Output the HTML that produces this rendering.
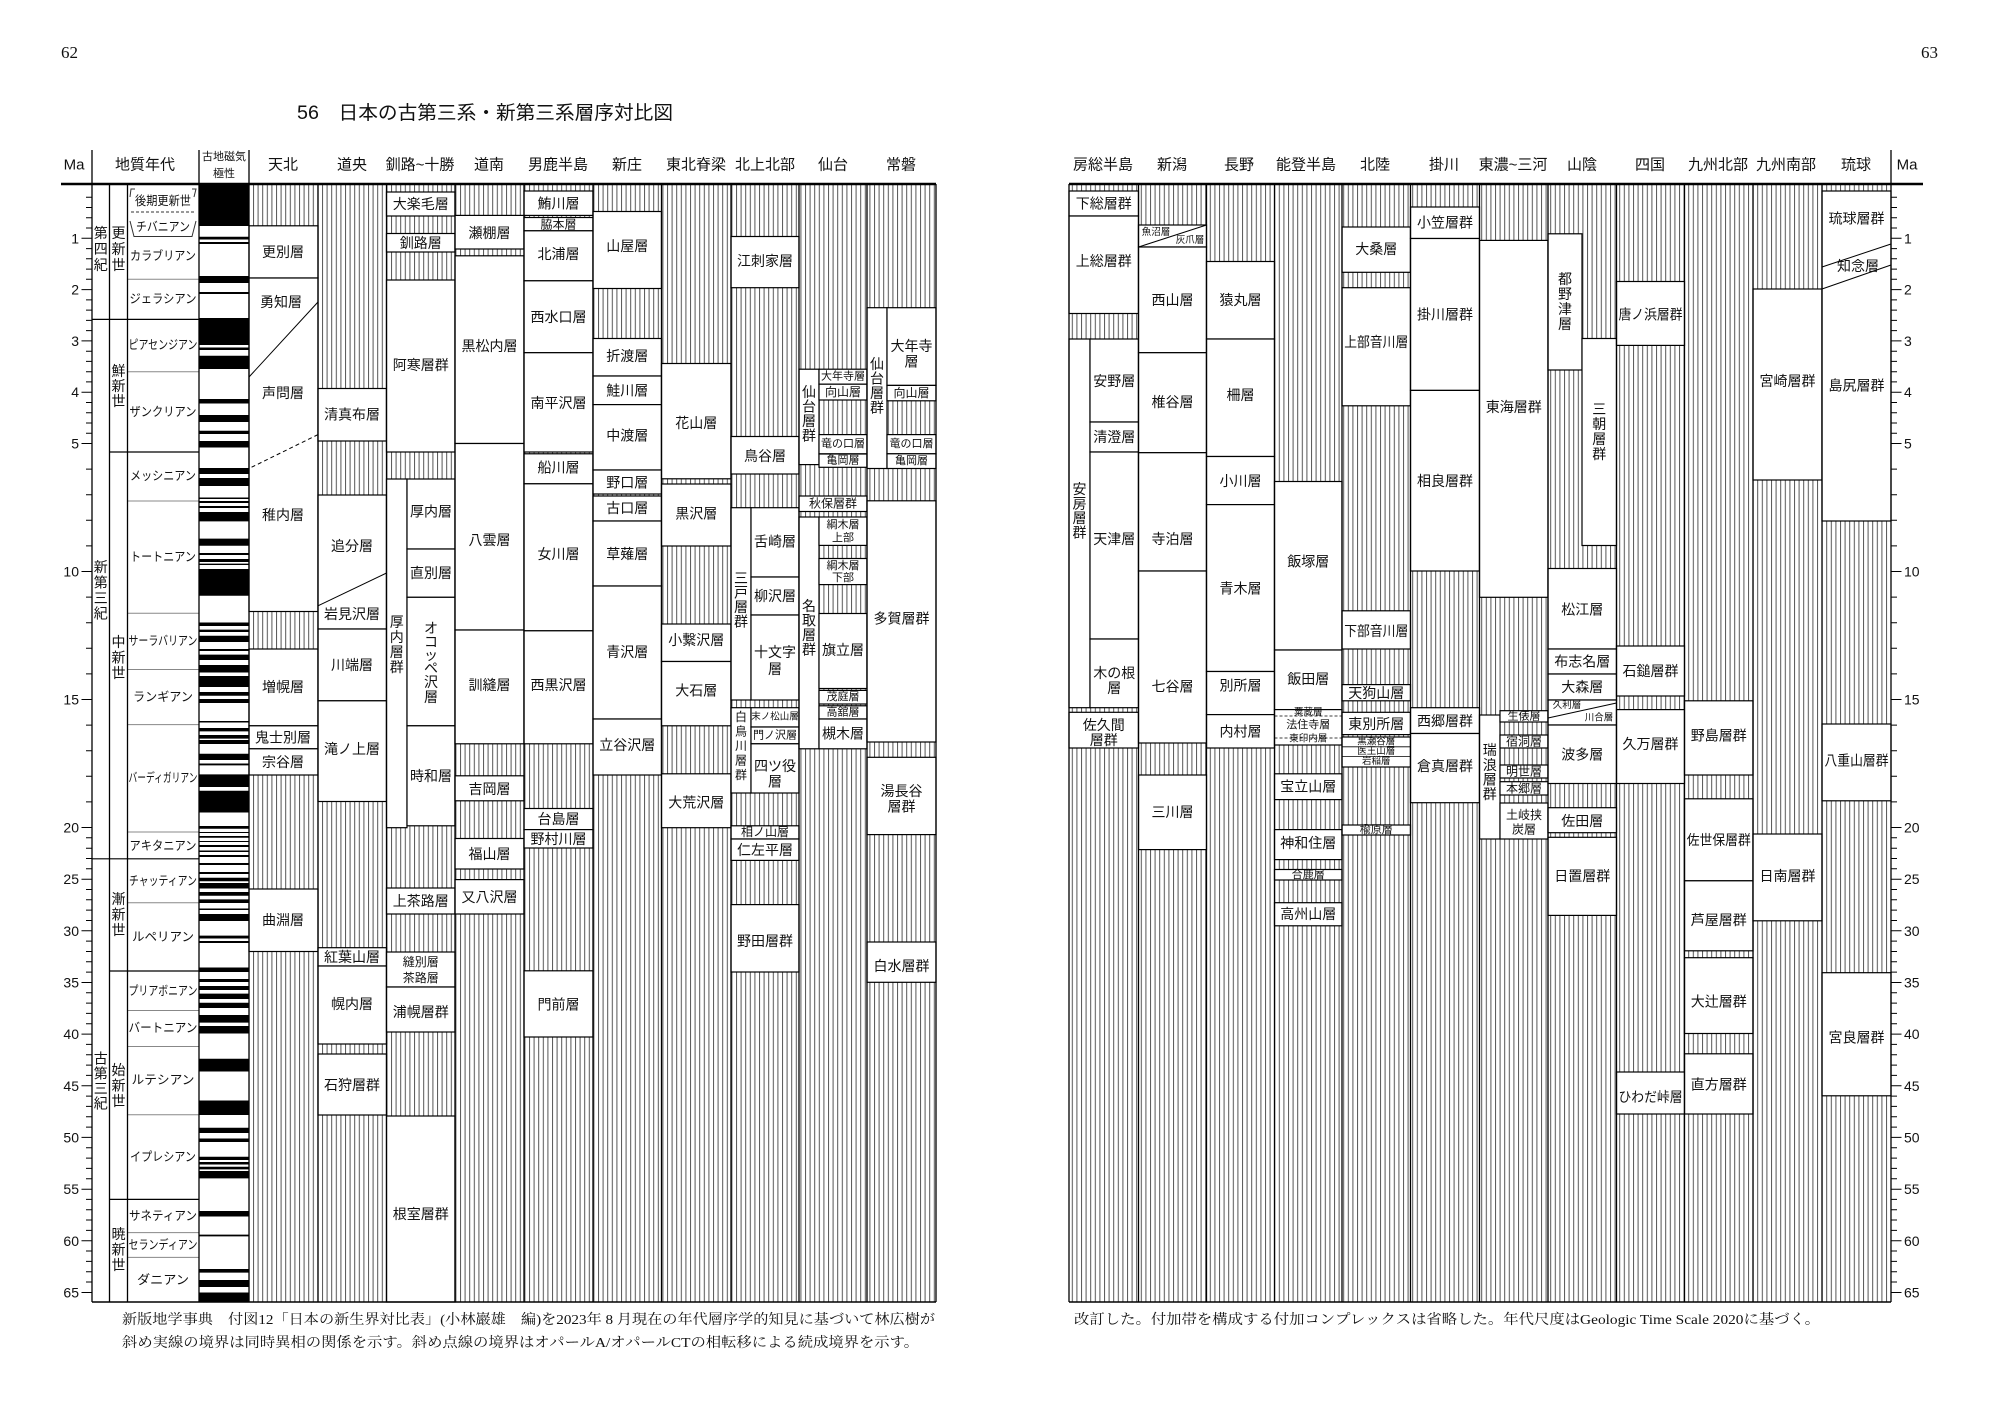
<!DOCTYPE html>
<html><head><meta charset="utf-8">
<style>
html,body{margin:0;padding:0;background:#fff}
svg{display:block}
text{font-family:"Liberation Sans","Noto Sans CJK JP",sans-serif;fill:#111}
.t{font-size:14px;text-anchor:middle;dominant-baseline:central}
.s{font-size:11px}
.m{font-size:12px}
.xs{font-size:9.5px}
.g{font-size:12.5px;text-anchor:middle;dominant-baseline:central}
.hd{font-size:15px;text-anchor:middle;dominant-baseline:central}
.tk{font-size:14px;dominant-baseline:central}
.b{fill:#fff;stroke:#000;stroke-width:1.2}
.serif{font-family:"Liberation Serif","Noto Serif CJK SC",serif}
</style></head>
<body>
<svg width="2000" height="1417" viewBox="0 0 2000 1417" xmlns="http://www.w3.org/2000/svg">
<defs>
<pattern id="h" patternUnits="userSpaceOnUse" width="4.6" height="10"><rect x="0" y="0" width="1" height="10" fill="#555"/></pattern>
</defs>
<rect width="2000" height="1417" fill="#fff"/>

<!-- page numbers & title -->
<text class="serif" x="61" y="58" font-size="17">62</text>
<text class="serif" x="1921" y="58" font-size="17">63</text>
<text x="297" y="119" font-size="19" textLength="376" lengthAdjust="spacingAndGlyphs">56　日本の古第三系・新第三系層序対比図</text>

<!-- hatch backgrounds -->
<rect x="249" y="185" width="687" height="1117" fill="url(#h)"/>
<rect x="1069" y="185" width="822" height="1117" fill="url(#h)"/>

<!-- ===== LEFT PAGE headers ===== -->
<text class="hd" x="74" y="165">Ma</text>
<text class="hd" x="145" y="165">地質年代</text>
<text class="t s" x="224" y="157">古地磁気</text>
<text class="t s" x="224" y="174">極性</text>
<text class="hd" x="283" y="165">天北</text>
<text class="hd" x="352" y="165">道央</text>
<text class="hd" x="420" y="165">釧路~十勝</text>
<text class="hd" x="489" y="165">道南</text>
<text class="hd" x="558" y="165">男鹿半島</text>
<text class="hd" x="627" y="165">新庄</text>
<text class="hd" x="696" y="165">東北脊梁</text>
<text class="hd" x="765" y="165">北上北部</text>
<text class="hd" x="833" y="165">仙台</text>
<text class="hd" x="901" y="165">常磐</text>

<!-- ===== RIGHT PAGE headers ===== -->
<text class="hd" x="1103" y="165">房総半島</text>
<text class="hd" x="1172" y="165">新潟</text>
<text class="hd" x="1239" y="165">長野</text>
<text class="hd" x="1306" y="165">能登半島</text>
<text class="hd" x="1375" y="165">北陸</text>
<text class="hd" x="1444" y="165">掛川</text>
<text class="hd" x="1513" y="165">東濃~三河</text>
<text class="hd" x="1582" y="165">山陰</text>
<text class="hd" x="1650" y="165">四国</text>
<text class="hd" x="1718" y="165">九州北部</text>
<text class="hd" x="1786" y="165">九州南部</text>
<text class="hd" x="1856" y="165">琉球</text>
<text class="hd" x="1907" y="165">Ma</text>

<!-- ===== Geological time columns ===== -->
<g stroke="#888" stroke-width="1">
<path d="M127.5 279.3H199M127.5 371.7H199M127.5 501H199M127.5 613.3H199M127.5 669.5H199M127.5 724.6H199M127.5 832H199M127.5 902.8H199M127.5 1010.5H199M127.5 1046.5H199M127.5 1114.7H199M127.5 1232.6H199M127.5 1257.4H199"/>
</g>
<g stroke="#000" stroke-width="1.2">
<path d="M92 319.4H199M92 858.8H199M109.5 452H199M109.5 971H199M109.5 1199.4H199"/>
</g>
<!-- brackets -->
<g stroke="#333" stroke-width="1" fill="none">
<polyline points="135,189 131,189 130,197"/>
<polyline points="192,189 196,189 194,197"/>
<path d="M131 212H196" stroke-dasharray="3,2"/>
<polyline points="130,221 134,236.5 192,236.5 196,221"/>
</g>
<text class="g" x="163" y="201" textLength="56" lengthAdjust="spacingAndGlyphs">後期更新世</text>
<text class="g" x="163" y="227" textLength="54" lengthAdjust="spacingAndGlyphs">チバニアン</text>
<text class="g" x="163" y="256" textLength="66" lengthAdjust="spacingAndGlyphs">カラブリアン</text>
<text class="g" x="163" y="299" textLength="67" lengthAdjust="spacingAndGlyphs">ジェラシアン</text>
<text class="g" x="163" y="345" textLength="69" lengthAdjust="spacingAndGlyphs">ピアセンジアン</text>
<text class="g" x="163" y="412" textLength="67" lengthAdjust="spacingAndGlyphs">ザンクリアン</text>
<text class="g" x="163" y="476" textLength="66" lengthAdjust="spacingAndGlyphs">メッシニアン</text>
<text class="g" x="163" y="557" textLength="66" lengthAdjust="spacingAndGlyphs">トートニアン</text>
<text class="g" x="163" y="641" textLength="69" lengthAdjust="spacingAndGlyphs">サーラバリアン</text>
<text class="g" x="163" y="697" textLength="60" lengthAdjust="spacingAndGlyphs">ランギアン</text>
<text class="g" x="163" y="778" textLength="69" lengthAdjust="spacingAndGlyphs">バーディガリアン</text>
<text class="g" x="163" y="846" textLength="67" lengthAdjust="spacingAndGlyphs">アキタニアン</text>
<text class="g" x="163" y="881" textLength="68" lengthAdjust="spacingAndGlyphs">チャッティアン</text>
<text class="g" x="163" y="937" textLength="62" lengthAdjust="spacingAndGlyphs">ルペリアン</text>
<text class="g" x="163" y="991" textLength="69" lengthAdjust="spacingAndGlyphs">プリアボニアン</text>
<text class="g" x="163" y="1028" textLength="69" lengthAdjust="spacingAndGlyphs">バートニアン</text>
<text class="g" x="163" y="1080" textLength="63" lengthAdjust="spacingAndGlyphs">ルテシアン</text>
<text class="g" x="163" y="1157" textLength="66" lengthAdjust="spacingAndGlyphs">イプレシアン</text>
<text class="g" x="163" y="1216" textLength="68" lengthAdjust="spacingAndGlyphs">サネティアン</text>
<text class="g" x="163" y="1245" textLength="69" lengthAdjust="spacingAndGlyphs">セランディアン</text>
<text class="g" x="163" y="1280" textLength="52" lengthAdjust="spacingAndGlyphs">ダニアン</text>

<!-- era/epoch vertical labels -->
<text class="t"><tspan x="100.75" y="233">第</tspan><tspan x="100.75" y="249">四</tspan><tspan x="100.75" y="265">紀</tspan></text>
<text class="t"><tspan x="118.5" y="233">更</tspan><tspan x="118.5" y="249">新</tspan><tspan x="118.5" y="265">世</tspan></text>
<text class="t"><tspan x="118.5" y="371">鮮</tspan><tspan x="118.5" y="386">新</tspan><tspan x="118.5" y="401">世</tspan></text>
<text class="t"><tspan x="100.75" y="567">新</tspan><tspan x="100.75" y="582.5">第</tspan><tspan x="100.75" y="598">三</tspan><tspan x="100.75" y="613.5">紀</tspan></text>
<text class="t"><tspan x="118.5" y="642">中</tspan><tspan x="118.5" y="657.5">新</tspan><tspan x="118.5" y="673">世</tspan></text>
<text class="t"><tspan x="118.5" y="899">漸</tspan><tspan x="118.5" y="914.5">新</tspan><tspan x="118.5" y="930">世</tspan></text>
<text class="t"><tspan x="100.75" y="1058.5">古</tspan><tspan x="100.75" y="1073.5">第</tspan><tspan x="100.75" y="1088.5">三</tspan><tspan x="100.75" y="1103.5">紀</tspan></text>
<text class="t"><tspan x="118.5" y="1070">始</tspan><tspan x="118.5" y="1085.5">新</tspan><tspan x="118.5" y="1101">世</tspan></text>
<text class="t"><tspan x="118.5" y="1234">暁</tspan><tspan x="118.5" y="1249.5">新</tspan><tspan x="118.5" y="1265">世</tspan></text>

<!-- magnetic polarity -->
<rect x="199" y="184" width="50" height="1118" fill="#fff"/>
<path fill="#000" d="M199.5 185h49v41h-49zM199.5 236.8h49v2.7h-49zM199.5 242h49v2h-49zM199.5 276h49v7h-49zM199.5 292h49v2h-49zM199.5 318h49v27h-49zM199.5 347.5h49v2.5h-49zM199.5 355.7h49v13.3h-49zM199.5 399h49v4.5h-49zM199.5 415h49v7h-49zM199.5 430.7h49v3.3h-49zM199.5 441h49v6.5h-49zM199.5 468h49v6h-49zM199.5 478h49v8h-49zM199.5 497.5h49v1.5h-49zM199.5 501h49v2h-49zM199.5 506h49v2h-49zM199.5 512h49v9.4h-49zM199.5 538.6h49v7.1h-49zM199.5 553h49v2h-49zM199.5 559h49v3h-49zM199.5 563.6h49v1.4h-49zM199.5 569h49v26.7h-49zM199.5 622.5h49v3.5h-49zM199.5 629.6h49v2.4h-49zM199.5 635.7h49v6.3h-49zM199.5 649h49v2h-49zM199.5 654.6h49v5.4h-49zM199.5 665h49v7.5h-49zM199.5 676h49v11h-49zM199.5 692h49v3.7h-49zM199.5 699h49v4h-49zM199.5 721h49v1.5h-49zM199.5 728h49v3.4h-49zM199.5 735h49v3.6h-49zM199.5 740h49v4h-49zM199.5 753.8h49v6.2h-49zM199.5 763.5h49v1.9h-49zM199.5 774.4h49v12.6h-49zM199.5 790.7h49v21.8h-49zM199.5 826h49v2.8h-49zM199.5 832h49v1h-49zM199.5 836h49v1.8h-49zM199.5 841h49v1h-49zM199.5 845h49v2h-49zM199.5 850.5h49v1.5h-49zM199.5 855h49v2h-49zM199.5 863h49v2h-49zM199.5 872h49v2h-49zM199.5 877.7h49v3.6h-49zM199.5 883h49v5.5h-49zM199.5 892h49v3.8h-49zM199.5 899.4h49v3.6h-49zM199.5 908.5h49v1.5h-49zM199.5 914h49v7h-49zM199.5 935.6h49v2.9h-49zM199.5 941h49v2h-49zM199.5 967.5h49v4.5h-49zM199.5 979h49v3h-49zM199.5 986h49v4h-49zM199.5 993.6h49v5.4h-49zM199.5 1002.7h49v5.3h-49zM199.5 1015h49v7.6h-49zM199.5 1026h49v7.5h-49zM199.5 1058.8h49v12.7h-49zM199.5 1100.5h49v14.5h-49zM199.5 1127.7h49v5.3h-49zM199.5 1138.5h49v3.5h-49zM199.5 1156.7h49v3.3h-49zM199.5 1162h49v2.5h-49zM199.5 1166.8h49v2.6h-49zM199.5 1171h49v7.4h-49zM199.5 1211h49v5.5h-49zM199.5 1234.6h49v1.8h-49zM199.5 1269h49v3.6h-49zM199.5 1280h49v7h-49zM199.5 1292.5h49v9.5h-49z"/>

<!-- ===== LEFT PAGE formations ===== -->
<!-- C1 天北 -->
<rect class="b" x="249" y="225.8" width="69" height="52.2"/><text class="t" x="283" y="252">更別層</text>
<rect class="b" x="249" y="278" width="69" height="333.5"/>
<line x1="318" y1="302" x2="249" y2="377" stroke="#000" stroke-width="1"/>
<line x1="318" y1="434.6" x2="249" y2="468.5" stroke="#000" stroke-width="1" stroke-dasharray="4,3"/>
<text class="t" x="281" y="302">勇知層</text>
<text class="t" x="283" y="393">声問層</text>
<text class="t" x="283" y="515">稚内層</text>
<rect class="b" x="249" y="649" width="69" height="76.8"/><text class="t" x="283" y="687">増幌層</text>
<rect class="b" x="249" y="725.8" width="69" height="23"/><text class="t" x="283" y="737.3">鬼士別層</text>
<rect class="b" x="249" y="748.8" width="69" height="26.2"/><text class="t" x="283" y="762">宗谷層</text>
<rect class="b" x="249" y="889" width="69" height="62.5"/><text class="t" x="283" y="920">曲淵層</text>

<!-- C2 道央 -->
<rect class="b" x="318" y="388.5" width="68.5" height="52.5"/><text class="t" x="352" y="414.5">清真布層</text>
<rect class="b" x="318" y="495" width="68.5" height="134"/>
<line x1="386.5" y1="573" x2="318" y2="605.8" stroke="#000" stroke-width="1"/>
<text class="t" x="352" y="546">追分層</text>
<text class="t" x="352" y="614">岩見沢層</text>
<rect class="b" x="318" y="629" width="68.5" height="71.8"/><text class="t" x="352" y="665">川端層</text>
<rect class="b" x="318" y="700.8" width="68.5" height="100.7"/><text class="t" x="352" y="749">滝ノ上層</text>
<rect class="b" x="318" y="947.7" width="68.5" height="18.3"/><text class="t" x="352" y="957">紅葉山層</text>
<rect class="b" x="318" y="966" width="68.5" height="78"/><text class="t" x="352" y="1004">幌内層</text>
<rect class="b" x="318" y="1054" width="68.5" height="61"/><text class="t" x="352" y="1085">石狩層群</text>

<!-- C3 釧路~十勝 -->
<rect class="b" x="386.5" y="192" width="68.5" height="24"/><text class="t" x="420.75" y="204">大楽毛層</text>
<rect class="b" x="386.5" y="233.5" width="68.5" height="18.5"/><text class="t" x="420.75" y="243">釧路層</text>
<rect class="b" x="386.5" y="280" width="68.5" height="172"/><text class="t" x="420.75" y="365">阿寒層群</text>
<rect class="b" x="386.5" y="479" width="20.5" height="348.7"/>
<text class="t"><tspan x="396.75" y="622">厚</tspan><tspan x="396.75" y="637">内</tspan><tspan x="396.75" y="652">層</tspan><tspan x="396.75" y="667">群</tspan></text>
<rect class="b" x="407" y="479" width="48" height="70"/><text class="t" x="431" y="511.5">厚内層</text>
<rect class="b" x="407" y="549" width="48" height="48.3"/><text class="t" x="431" y="573">直別層</text>
<rect class="b" x="407" y="597.3" width="48" height="128.5"/>
<text class="t"><tspan x="431" y="628">オ</tspan><tspan x="431" y="642">コ</tspan><tspan x="431" y="655">ッ</tspan><tspan x="431" y="668">ペ</tspan><tspan x="431" y="682">沢</tspan><tspan x="431" y="697">層</tspan></text>
<rect class="b" x="407" y="725.8" width="48" height="100"/><text class="t" x="431" y="776">時和層</text>
<rect class="b" x="386.5" y="888" width="68.5" height="26"/><text class="t" x="420.75" y="901">上茶路層</text>
<rect class="b" x="386.5" y="952" width="68.5" height="35"/><text class="t m" x="420.75" y="962">縫別層</text><text class="t m" x="420.75" y="978">茶路層</text>
<rect class="b" x="386.5" y="987" width="68.5" height="45"/><text class="t" x="420.75" y="1012">浦幌層群</text>
<rect class="b" x="386.5" y="1116" width="68.5" height="186"/><text class="t" x="420.75" y="1214">根室層群</text>

<!-- C4 道南 -->
<rect class="b" x="455" y="215.4" width="69" height="33.6"/><text class="t" x="489.5" y="233">瀬棚層</text>
<rect class="b" x="455" y="255.8" width="69" height="187.7"/><text class="t" x="489.5" y="346">黒松内層</text>
<rect class="b" x="455" y="443.5" width="69" height="186.5"/><text class="t" x="489.5" y="540">八雲層</text>
<rect class="b" x="455" y="630" width="69" height="113.8"/><text class="t" x="489.5" y="685">訓縫層</text>
<rect class="b" x="455" y="775.8" width="69" height="25"/><text class="t" x="489.5" y="789">吉岡層</text>
<rect class="b" x="455" y="838.5" width="69" height="30.5"/><text class="t" x="489.5" y="854">福山層</text>
<rect class="b" x="455" y="879.6" width="69" height="34.4"/><text class="t" x="489.5" y="897">又八沢層</text>

<!-- C5 男鹿半島 -->
<rect class="b" x="524" y="191" width="69" height="24.4"/><text class="t" x="558.5" y="203.5">鮪川層</text>
<rect class="b" x="524" y="217.5" width="69" height="13.3"/><text class="t m" x="558.5" y="224.5">脇本層</text>
<rect class="b" x="524" y="230.8" width="69" height="50"/><text class="t" x="558.5" y="254">北浦層</text>
<rect class="b" x="524" y="280.8" width="69" height="71.9"/><text class="t" x="558.5" y="317">西水口層</text>
<rect class="b" x="524" y="352.7" width="69" height="99.3"/><text class="t" x="558.5" y="403">南平沢層</text>
<rect class="b" x="524" y="453.8" width="69" height="30"/><text class="t" x="558.5" y="467.5">船川層</text>
<rect class="b" x="524" y="483.8" width="69" height="147"/><text class="t" x="558.5" y="554">女川層</text>
<rect class="b" x="524" y="630.8" width="69" height="113"/><text class="t" x="558.5" y="685">西黒沢層</text>
<rect class="b" x="524" y="808.5" width="69" height="21.1"/><text class="t" x="558.5" y="819">台島層</text>
<rect class="b" x="524" y="829.6" width="69" height="18.4"/><text class="t" x="558.5" y="839">野村川層</text>
<rect class="b" x="524" y="970.8" width="69" height="66.2"/><text class="t" x="558.5" y="1004.6">門前層</text>

<!-- C6 新庄 -->
<rect class="b" x="593" y="211.5" width="68.5" height="77"/><text class="t" x="627.25" y="246">山屋層</text>
<rect class="b" x="593" y="338.5" width="68.5" height="37.5"/><text class="t" x="627.25" y="356">折渡層</text>
<rect class="b" x="593" y="376" width="68.5" height="28.6"/><text class="t" x="627.25" y="390.4">鮭川層</text>
<rect class="b" x="593" y="404.6" width="68.5" height="65.4"/><text class="t" x="627.25" y="435.4">中渡層</text>
<rect class="b" x="593" y="470" width="68.5" height="24"/><text class="t" x="627.25" y="482.5">野口層</text>
<rect class="b" x="593" y="496" width="68.5" height="25"/><text class="t" x="627.25" y="508">古口層</text>
<rect class="b" x="593" y="521" width="68.5" height="65"/><text class="t" x="627.25" y="554">草薙層</text>
<rect class="b" x="593" y="586" width="68.5" height="133"/><text class="t" x="627.25" y="652">青沢層</text>
<rect class="b" x="593" y="719" width="68.5" height="56"/><text class="t" x="627.25" y="745">立谷沢層</text>

<!-- C7 東北脊梁 -->
<rect class="b" x="661.5" y="363.5" width="69.5" height="115.3"/><text class="t" x="696.25" y="423">花山層</text>
<rect class="b" x="661.5" y="484" width="69.5" height="62"/><text class="t" x="696.25" y="513.5">黒沢層</text>
<rect class="b" x="661.5" y="624" width="69.5" height="37.5"/><text class="t" x="696.25" y="640">小繋沢層</text>
<rect class="b" x="661.5" y="661.5" width="69.5" height="64.3"/><text class="t" x="696.25" y="690.4">大石層</text>
<rect class="b" x="661.5" y="773.8" width="69.5" height="53.9"/><text class="t" x="696.25" y="802.7">大荒沢層</text>

<!-- C8 北上北部 -->
<rect class="b" x="731" y="236.5" width="68" height="51.2"/><text class="t" x="765" y="261">江刺家層</text>
<rect class="b" x="731" y="436.5" width="68" height="37.5"/><text class="t" x="765" y="456">鳥谷層</text>
<rect class="b" x="731" y="507.7" width="20" height="192.3"/>
<text class="t"><tspan x="741" y="578">三</tspan><tspan x="741" y="592.5">戸</tspan><tspan x="741" y="607">層</tspan><tspan x="741" y="621.5">群</tspan></text>
<rect class="b" x="751" y="507.7" width="48" height="69.3"/><text class="t" x="775" y="541.5">舌崎層</text>
<rect class="b" x="751" y="577" width="48" height="38"/><text class="t" x="775" y="596">柳沢層</text>
<rect class="b" x="751" y="615" width="48" height="85"/><text class="t" x="775" y="652">十文字</text><text class="t" x="775" y="669">層</text>
<rect class="b" x="731" y="707.7" width="20" height="85.3"/>
<text class="t m"><tspan x="741" y="717">白</tspan><tspan x="741" y="731.5">鳥</tspan><tspan x="741" y="746">川</tspan><tspan x="741" y="760.5">層</tspan><tspan x="741" y="775">群</tspan></text>
<rect class="b" x="751" y="707.7" width="48" height="19.3"/><text class="t xs" x="775" y="717">末ノ松山層</text>
<rect class="b" x="751" y="727" width="48" height="16.8"/><text class="t s" x="775" y="735.4">門ノ沢層</text>
<rect class="b" x="751" y="743.8" width="48" height="49.2"/><text class="t" x="775" y="766">四ツ役</text><text class="t" x="775" y="781.5">層</text>
<rect class="b" x="731" y="825.8" width="68" height="13.2"/><text class="t m" x="765" y="832">相ノ山層</text>
<rect class="b" x="731" y="839" width="68" height="21.4"/><text class="t" x="765" y="850">仁左平層</text>
<rect class="b" x="731" y="904.6" width="68" height="67.4"/><text class="t" x="765" y="941">野田層群</text>

<!-- C9 仙台 -->
<rect class="b" x="799" y="369.2" width="20" height="95.4"/>
<text class="t"><tspan x="809" y="392">仙</tspan><tspan x="809" y="406.5">台</tspan><tspan x="809" y="421">層</tspan><tspan x="809" y="435.5">群</tspan></text>
<rect class="b" x="819" y="369.2" width="48" height="15"/><text class="t s" x="843" y="376.7">大年寺層</text>
<rect class="b" x="819" y="384.2" width="48" height="15.8"/><text class="t m" x="843" y="392">向山層</text>
<rect class="b" x="819" y="434.6" width="48" height="19.2"/><text class="t s" x="843" y="444">竜の口層</text>
<rect class="b" x="819" y="454" width="48" height="13.3"/><text class="t s" x="843" y="460.7">亀岡層</text>
<rect class="b" x="799" y="496" width="68" height="15.5"/><text class="t m" x="833" y="503.7">秋保層群</text>
<rect class="b" x="799" y="517" width="20" height="231.8"/>
<text class="t"><tspan x="809" y="606">名</tspan><tspan x="809" y="620.5">取</tspan><tspan x="809" y="635">層</tspan><tspan x="809" y="649.5">群</tspan></text>
<rect class="b" x="819" y="517" width="48" height="28.4"/><text class="t s" x="843" y="525">綱木層</text><text class="t s" x="843" y="538">上部</text>
<rect class="b" x="819" y="558.5" width="48" height="26.1"/><text class="t s" x="843" y="566">綱木層</text><text class="t s" x="843" y="578">下部</text>
<rect class="b" x="819" y="613.5" width="48" height="75"/><text class="t" x="843" y="650">旗立層</text>
<rect class="b" x="819" y="690.4" width="48" height="13.6"/><text class="t s" x="843" y="697">茂庭層</text>
<rect class="b" x="819" y="705.8" width="48" height="13.2"/><text class="t s" x="843" y="712.4">高舘層</text>
<rect class="b" x="819" y="719" width="48" height="29.8"/><text class="t" x="843" y="733.5">槻木層</text>

<!-- C10 常磐 -->
<rect class="b" x="867" y="307.7" width="20" height="160.8"/>
<text class="t"><tspan x="877" y="364">仙</tspan><tspan x="877" y="378.5">台</tspan><tspan x="877" y="393">層</tspan><tspan x="877" y="407.5">群</tspan></text>
<rect class="b" x="887" y="307.7" width="49" height="77.7"/><text class="t" x="911.5" y="346">大年寺</text><text class="t" x="911.5" y="361.5">層</text>
<rect class="b" x="887" y="385.4" width="49" height="15.4"/><text class="t m" x="911.5" y="393">向山層</text>
<rect class="b" x="887" y="434.6" width="49" height="19.2"/><text class="t s" x="911.5" y="444">竜の口層</text>
<rect class="b" x="887" y="453.8" width="49" height="14.7"/><text class="t s" x="911.5" y="461">亀岡層</text>
<rect class="b" x="867" y="500.8" width="69" height="241.2"/><text class="t" x="901.5" y="618.5">多賀層群</text>
<rect class="b" x="867" y="757.3" width="69" height="77.3"/><text class="t" x="901.5" y="791">湯長谷</text><text class="t" x="901.5" y="806.5">層群</text>
<rect class="b" x="867" y="942" width="69" height="40.3"/><text class="t" x="901.5" y="966">白水層群</text>

<!-- ===== RIGHT PAGE formations ===== -->
<!-- R1 房総半島 -->
<rect class="b" x="1069" y="191" width="69.5" height="25"/><text class="t" x="1103.75" y="203.5">下総層群</text>
<rect class="b" x="1069" y="216" width="69.5" height="97.5"/><text class="t" x="1103.75" y="261">上総層群</text>
<rect class="b" x="1069" y="339" width="21" height="368.7"/>
<text class="t"><tspan x="1079.5" y="489">安</tspan><tspan x="1079.5" y="503.5">房</tspan><tspan x="1079.5" y="518">層</tspan><tspan x="1079.5" y="532.5">群</tspan></text>
<rect class="b" x="1090" y="339" width="48.5" height="83"/><text class="t" x="1114.25" y="381">安野層</text>
<rect class="b" x="1090" y="422" width="48.5" height="30"/><text class="t" x="1114.25" y="437">清澄層</text>
<rect class="b" x="1090" y="452" width="48.5" height="187"/><text class="t" x="1114.25" y="539">天津層</text>
<rect class="b" x="1090" y="639" width="48.5" height="68.7"/><text class="t" x="1114.25" y="673">木の根</text><text class="t" x="1114.25" y="688">層</text>
<rect class="b" x="1069" y="712.3" width="69.5" height="35.7"/><text class="t" x="1103.75" y="725">佐久間</text><text class="t" x="1103.75" y="740">層群</text>

<!-- R2 新潟 -->
<rect class="b" x="1138.5" y="225" width="68" height="22"/>
<line x1="1138.5" y1="247" x2="1206.5" y2="225" stroke="#000" stroke-width="1"/>
<text class="t xs" x="1156" y="232.5">魚沼層</text><text class="t xs" x="1190" y="240.5">灰爪層</text>
<rect class="b" x="1138.5" y="247" width="68" height="105.7"/><text class="t" x="1172.5" y="300">西山層</text>
<rect class="b" x="1138.5" y="352.7" width="68" height="100"/><text class="t" x="1172.5" y="402">椎谷層</text>
<rect class="b" x="1138.5" y="452.7" width="68" height="118.3"/><text class="t" x="1172.5" y="539">寺泊層</text>
<rect class="b" x="1138.5" y="571" width="68" height="172"/><text class="t" x="1172.5" y="686.5">七谷層</text>
<rect class="b" x="1138.5" y="775" width="68" height="74.6"/><text class="t" x="1172.5" y="812">三川層</text>

<!-- R3 長野 -->
<rect class="b" x="1206.5" y="261.5" width="68" height="77.5"/><text class="t" x="1240.5" y="300">猿丸層</text>
<rect class="b" x="1206.5" y="339" width="68" height="117.5"/><text class="t" x="1240.5" y="395">柵層</text>
<rect class="b" x="1206.5" y="456.5" width="68" height="48.1"/><text class="t" x="1240.5" y="481">小川層</text>
<rect class="b" x="1206.5" y="504.6" width="68" height="166.9"/><text class="t" x="1240.5" y="588.5">青木層</text>
<rect class="b" x="1206.5" y="671.5" width="68" height="43.1"/><text class="t" x="1240.5" y="685.4">別所層</text>
<rect class="b" x="1206.5" y="714.6" width="68" height="33.4"/><text class="t" x="1240.5" y="731.5">内村層</text>

<!-- R4 能登半島 -->
<rect class="b" x="1274.5" y="481.5" width="67.5" height="168.5"/><text class="t" x="1308.25" y="561.5">飯塚層</text>
<rect class="b" x="1274.5" y="650" width="67.5" height="59.6"/><text class="t" x="1308.25" y="679">飯田層</text>
<rect class="b" x="1274.5" y="709.6" width="67.5" height="35.4"/>
<line x1="1274.5" y1="716" x2="1341.5" y2="716" stroke="#000" stroke-width="0.8" stroke-dasharray="3,2"/>
<line x1="1274.5" y1="738" x2="1341.5" y2="738" stroke="#000" stroke-width="0.8" stroke-dasharray="3,2"/>
<text class="t xs" x="1308.25" y="712.5">粟蔵層</text>
<text class="t s" x="1308.25" y="725">法住寺層</text>
<text class="t xs" x="1308.25" y="739">東印内層</text>
<rect class="b" x="1274.5" y="773.8" width="67.5" height="25.8"/><text class="t" x="1308.25" y="786.5">宝立山層</text>
<rect class="b" x="1274.5" y="829.6" width="67.5" height="30"/><text class="t" x="1308.25" y="843">神和住層</text>
<rect class="b" x="1274.5" y="869.5" width="67.5" height="10.5"/><text class="t s" x="1308.25" y="875">合鹿層</text>
<rect class="b" x="1274.5" y="902.7" width="67.5" height="23.1"/><text class="t" x="1308.25" y="914">高州山層</text>

<!-- R5 北陸 -->
<rect class="b" x="1342" y="227" width="68.5" height="45.3"/><text class="t" x="1376.25" y="249">大桑層</text>
<rect class="b" x="1342" y="287.7" width="68.5" height="118.1"/><text class="t" x="1376.25" y="342" textLength="64" lengthAdjust="spacingAndGlyphs">上部音川層</text>
<rect class="b" x="1342" y="610.8" width="68.5" height="38.2"/><text class="t" x="1376.25" y="631" textLength="64" lengthAdjust="spacingAndGlyphs">下部音川層</text>
<rect class="b" x="1342" y="684.6" width="68.5" height="16.2"/><text class="t" x="1376.25" y="693">天狗山層</text>
<rect class="b" x="1342" y="712.3" width="68.5" height="22.3"/><text class="t" x="1376.25" y="724">東別所層</text>
<rect class="b" x="1342" y="737" width="68.5" height="30"/>
<line x1="1342" y1="746.8" x2="1410.5" y2="746.8" stroke="#000" stroke-width="0.8"/>
<line x1="1342" y1="756.6" x2="1410.5" y2="756.6" stroke="#000" stroke-width="0.8"/>
<text class="t xs" x="1376.25" y="742">黒瀬谷層</text>
<text class="t xs" x="1376.25" y="751.7">医王山層</text>
<text class="t xs" x="1376.25" y="761.5">岩稲層</text>
<rect class="b" x="1342" y="825" width="68.5" height="10"/><text class="t s" x="1376.25" y="830">楡原層</text>

<!-- R6 掛川 -->
<rect class="b" x="1410.5" y="207" width="69" height="31.5"/><text class="t" x="1445" y="222.5">小笠層群</text>
<rect class="b" x="1410.5" y="238.5" width="69" height="151.9"/><text class="t" x="1445" y="314.6">掛川層群</text>
<rect class="b" x="1410.5" y="390.4" width="69" height="180.6"/><text class="t" x="1445" y="481">相良層群</text>
<rect class="b" x="1410.5" y="707.7" width="69" height="25.8"/><text class="t" x="1445" y="721">西郷層群</text>
<rect class="b" x="1410.5" y="733.5" width="69" height="69.2"/><text class="t" x="1445" y="766">倉真層群</text>

<!-- R7 東濃~三河 -->
<rect class="b" x="1479.5" y="240.4" width="68.5" height="356.9"/><text class="t" x="1513.75" y="407">東海層群</text>
<rect class="b" x="1479.5" y="715" width="20.5" height="124"/>
<text class="t"><tspan x="1489.75" y="750">瑞</tspan><tspan x="1489.75" y="765">浪</tspan><tspan x="1489.75" y="779.5">層</tspan><tspan x="1489.75" y="794">群</tspan></text>
<rect class="b" x="1500" y="710.7" width="48" height="11.3"/><text class="t s" x="1524" y="716.3">生俵層</text>
<rect class="b" x="1500" y="735" width="48" height="13"/><text class="t m" x="1524" y="741.5">宿洞層</text>
<rect class="b" x="1500" y="765" width="48" height="13"/><text class="t m" x="1524" y="771.5">明世層</text>
<rect class="b" x="1500" y="781.7" width="48" height="13.3"/><text class="t m" x="1524" y="788.3">本郷層</text>
<rect class="b" x="1500" y="803" width="48" height="36"/><text class="t m" x="1524" y="815">土岐挟</text><text class="t m" x="1524" y="829.5">炭層</text>

<!-- R8 山陰 -->
<rect class="b" x="1548" y="233.8" width="34" height="136.2"/>
<text class="t"><tspan x="1565" y="279">都</tspan><tspan x="1565" y="294">野</tspan><tspan x="1565" y="309">津</tspan><tspan x="1565" y="324">層</tspan></text>
<rect class="b" x="1582" y="338.5" width="34.5" height="207"/>
<text class="t"><tspan x="1599.25" y="409">三</tspan><tspan x="1599.25" y="424">朝</tspan><tspan x="1599.25" y="439">層</tspan><tspan x="1599.25" y="454">群</tspan></text>
<rect class="b" x="1548" y="568.5" width="68.5" height="80.5"/><text class="t" x="1582.25" y="609.6">松江層</text>
<rect class="b" x="1548" y="649" width="68.5" height="25"/><text class="t" x="1582.25" y="661.5">布志名層</text>
<rect class="b" x="1548" y="674" width="68.5" height="26"/><text class="t" x="1582.25" y="687">大森層</text>
<rect class="b" x="1548" y="700" width="68.5" height="25"/>
<line x1="1548" y1="718" x2="1616.5" y2="703" stroke="#000" stroke-width="1"/>
<text class="t xs" x="1567" y="705.5">久利層</text><text class="t xs" x="1599" y="718">川合層</text>
<rect class="b" x="1548" y="725" width="68.5" height="58.5"/><text class="t" x="1582.25" y="754.6">波多層</text>
<rect class="b" x="1548" y="807.7" width="68.5" height="25"/><text class="t" x="1582.25" y="820.8">佐田層</text>
<rect class="b" x="1548" y="837.3" width="68.5" height="78.1"/><text class="t" x="1582.25" y="876">日置層群</text>

<!-- R9 四国 -->
<rect class="b" x="1616.5" y="281.5" width="68" height="63.9"/><text class="t" x="1650.5" y="314.6" textLength="64" lengthAdjust="spacingAndGlyphs">唐ノ浜層群</text>
<rect class="b" x="1616.5" y="646" width="68" height="50"/><text class="t" x="1650.5" y="671">石鎚層群</text>
<rect class="b" x="1616.5" y="709.6" width="68" height="73.9"/><text class="t" x="1650.5" y="744">久万層群</text>
<rect class="b" x="1616.5" y="1072" width="68" height="42"/><text class="t" x="1650.5" y="1097" textLength="64" lengthAdjust="spacingAndGlyphs">ひわだ峠層</text>

<!-- R10 九州北部 -->
<rect class="b" x="1684.5" y="700.8" width="68.5" height="74.2"/><text class="t" x="1718.75" y="735.4">野島層群</text>
<rect class="b" x="1684.5" y="798.8" width="68.5" height="82"/><text class="t" x="1718.75" y="840" textLength="64" lengthAdjust="spacingAndGlyphs">佐世保層群</text>
<rect class="b" x="1684.5" y="880.8" width="68.5" height="70"/><text class="t" x="1718.75" y="920">芦屋層群</text>
<rect class="b" x="1684.5" y="957.7" width="68.5" height="75.8"/><text class="t" x="1718.75" y="1001.5">大辻層群</text>
<rect class="b" x="1684.5" y="1053.8" width="68.5" height="60.2"/><text class="t" x="1718.75" y="1084.6">直方層群</text>

<!-- R11 九州南部 -->
<rect class="b" x="1753" y="289" width="69" height="191"/><text class="t" x="1787.5" y="380.8">宮崎層群</text>
<rect class="b" x="1753" y="834" width="69" height="86.8"/><text class="t" x="1787.5" y="876">日南層群</text>

<!-- R12 琉球 -->
<rect class="b" x="1822" y="191" width="69" height="330"/>
<line x1="1822" y1="267" x2="1891" y2="244" stroke="#000" stroke-width="1"/>
<line x1="1822" y1="289" x2="1891" y2="265" stroke="#000" stroke-width="1"/>
<text class="t" x="1856.5" y="218.5">琉球層群</text>
<text class="t" x="1858" y="266">知念層</text>
<text class="t" x="1856.5" y="385.4">島尻層群</text>
<rect class="b" x="1822" y="724" width="69" height="76.8"/><text class="t" x="1856.5" y="760.4" textLength="64" lengthAdjust="spacingAndGlyphs">八重山層群</text>
<rect class="b" x="1822" y="972.7" width="69" height="123.1"/><text class="t" x="1856.5" y="1037.3">宮良層群</text>

<!-- ===== frame lines ===== -->
<g stroke="#000" fill="none">
<path stroke-width="1.3" d="M109.5 184V1302M127.5 184V1302M318 184V1302M386.5 184V1302M455 184V1302M524 184V1302M593 184V1302M661.5 184V1302M731 184V1302M799 184V1302M867 184V1302M936 184V1302"/>
<path stroke-width="1.3" d="M92 150V1302M199 150V1302M249 150V1302"/>
<path stroke-width="1.3" d="M1069 184V1302M1138.5 184V1302M1206.5 184V1302M1274.5 184V1302M1342 184V1302M1410.5 184V1302M1479.5 184V1302M1548 184V1302M1616.5 184V1302M1684.5 184V1302M1753 184V1302M1822 184V1302M1891 150V1302"/>
<path stroke-width="1.4" d="M92 1302H936M1069 1302H1891"/>
<path stroke-width="2.6" d="M61 184H936M1069 184H1923"/>
</g>

<!-- ticks -->
<g stroke="#000" stroke-width="1" fill="none">
<path d="M81.5 238.3h10.5M81.5 289.6h10.5M81.5 340.9h10.5M81.5 392.2h10.5M81.5 443.5h10.5M81.5 571.5h10.5M81.5 699.5h10.5M81.5 827.5h10.5M81.5 879.2h10.5M81.5 930.8h10.5M81.5 982.5h10.5M81.5 1034.1h10.5M81.5 1085.8h10.5M81.5 1137.4h10.5M81.5 1189.2h10.5M81.5 1240.8h10.5M81.5 1292.5h10.5"/>
<path d="M86 197.3h6M86 207.5h6M86 217.8h6M86 228h6M86 248.6h6M86 258.8h6M86 269.1h6M86 279.3h6M86 299.9h6M86 310.1h6M86 320.4h6M86 330.6h6M86 351.2h6M86 361.4h6M86 371.7h6M86 381.9h6M86 402.5h6M86 412.7h6M86 423h6M86 433.2h6M86 469.1h6M86 494.7h6M86 520.3h6M86 545.9h6M86 597.1h6M86 622.7h6M86 648.3h6M86 673.9h6M86 725.1h6M86 750.7h6M86 776.3h6M86 801.9h6M86 837.8h6M86 848.2h6M86 858.5h6M86 868.8h6M86 889.5h6M86 899.8h6M86 910.1h6M86 920.5h6M86 941.1h6M86 951.5h6M86 961.8h6M86 972.1h6M86 992.8h6M86 1003.1h6M86 1013.4h6M86 1023.8h6M86 1044.4h6M86 1054.8h6M86 1065.1h6M86 1075.4h6M86 1096.1h6M86 1106.4h6M86 1116.7h6M86 1127.1h6M86 1147.7h6M86 1158.1h6M86 1168.4h6M86 1178.7h6M86 1199.4h6M86 1209.7h6M86 1220h6M86 1230.4h6M86 1251h6M86 1261.4h6M86 1271.7h6M86 1282h6"/>
<path d="M1891 238.3h10.5M1891 289.6h10.5M1891 340.9h10.5M1891 392.2h10.5M1891 443.5h10.5M1891 571.5h10.5M1891 699.5h10.5M1891 827.5h10.5M1891 879.2h10.5M1891 930.8h10.5M1891 982.5h10.5M1891 1034.1h10.5M1891 1085.8h10.5M1891 1137.4h10.5M1891 1189.2h10.5M1891 1240.8h10.5M1891 1292.5h10.5"/>
<path d="M1891 197.3h6M1891 207.5h6M1891 217.8h6M1891 228h6M1891 248.6h6M1891 258.8h6M1891 269.1h6M1891 279.3h6M1891 299.9h6M1891 310.1h6M1891 320.4h6M1891 330.6h6M1891 351.2h6M1891 361.4h6M1891 371.7h6M1891 381.9h6M1891 402.5h6M1891 412.7h6M1891 423h6M1891 433.2h6M1891 469.1h6M1891 494.7h6M1891 520.3h6M1891 545.9h6M1891 597.1h6M1891 622.7h6M1891 648.3h6M1891 673.9h6M1891 725.1h6M1891 750.7h6M1891 776.3h6M1891 801.9h6M1891 837.8h6M1891 848.2h6M1891 858.5h6M1891 868.8h6M1891 889.5h6M1891 899.8h6M1891 910.1h6M1891 920.5h6M1891 941.1h6M1891 951.5h6M1891 961.8h6M1891 972.1h6M1891 992.8h6M1891 1003.1h6M1891 1013.4h6M1891 1023.8h6M1891 1044.4h6M1891 1054.8h6M1891 1065.1h6M1891 1075.4h6M1891 1096.1h6M1891 1106.4h6M1891 1116.7h6M1891 1127.1h6M1891 1147.7h6M1891 1158.1h6M1891 1168.4h6M1891 1178.7h6M1891 1199.4h6M1891 1209.7h6M1891 1220h6M1891 1230.4h6M1891 1251h6M1891 1261.4h6M1891 1271.7h6M1891 1282h6"/>
</g>
<g class="tk" text-anchor="end">
<text class="tk" x="79" y="238.3" text-anchor="end">1</text>
<text class="tk" x="79" y="289.6" text-anchor="end">2</text>
<text class="tk" x="79" y="340.9" text-anchor="end">3</text>
<text class="tk" x="79" y="392.2" text-anchor="end">4</text>
<text class="tk" x="79" y="443.5" text-anchor="end">5</text>
<text class="tk" x="79" y="571.5" text-anchor="end">10</text>
<text class="tk" x="79" y="699.5" text-anchor="end">15</text>
<text class="tk" x="79" y="827.5" text-anchor="end">20</text>
<text class="tk" x="79" y="879.2" text-anchor="end">25</text>
<text class="tk" x="79" y="930.8" text-anchor="end">30</text>
<text class="tk" x="79" y="982.5" text-anchor="end">35</text>
<text class="tk" x="79" y="1034.1" text-anchor="end">40</text>
<text class="tk" x="79" y="1085.8" text-anchor="end">45</text>
<text class="tk" x="79" y="1137.4" text-anchor="end">50</text>
<text class="tk" x="79" y="1189.2" text-anchor="end">55</text>
<text class="tk" x="79" y="1240.8" text-anchor="end">60</text>
<text class="tk" x="79" y="1292.5" text-anchor="end">65</text>
</g>
<g>
<text class="tk" x="1904" y="238.3">1</text>
<text class="tk" x="1904" y="289.6">2</text>
<text class="tk" x="1904" y="340.9">3</text>
<text class="tk" x="1904" y="392.2">4</text>
<text class="tk" x="1904" y="443.5">5</text>
<text class="tk" x="1904" y="571.5">10</text>
<text class="tk" x="1904" y="699.5">15</text>
<text class="tk" x="1904" y="827.5">20</text>
<text class="tk" x="1904" y="879.2">25</text>
<text class="tk" x="1904" y="930.8">30</text>
<text class="tk" x="1904" y="982.5">35</text>
<text class="tk" x="1904" y="1034.1">40</text>
<text class="tk" x="1904" y="1085.8">45</text>
<text class="tk" x="1904" y="1137.4">50</text>
<text class="tk" x="1904" y="1189.2">55</text>
<text class="tk" x="1904" y="1240.8">60</text>
<text class="tk" x="1904" y="1292.5">65</text>
</g>

<!-- captions -->
<text class="serif" x="122" y="1324" font-size="14" textLength="813" lengthAdjust="spacingAndGlyphs">新版地学事典　付図12「日本の新生界対比表」(小林巖雄　編)を2023年 8 月現在の年代層序学的知見に基づいて林広樹が</text>
<text class="serif" x="122" y="1347" font-size="14" textLength="797" lengthAdjust="spacingAndGlyphs">斜め実線の境界は同時異相の関係を示す。斜め点線の境界はオパールA/オパールCTの相転移による続成境界を示す。</text>
<text class="serif" x="1074" y="1324" font-size="14" textLength="746" lengthAdjust="spacingAndGlyphs">改訂した。付加帯を構成する付加コンプレックスは省略した。年代尺度はGeologic Time Scale 2020に基づく。</text>
</svg>
</body></html>
